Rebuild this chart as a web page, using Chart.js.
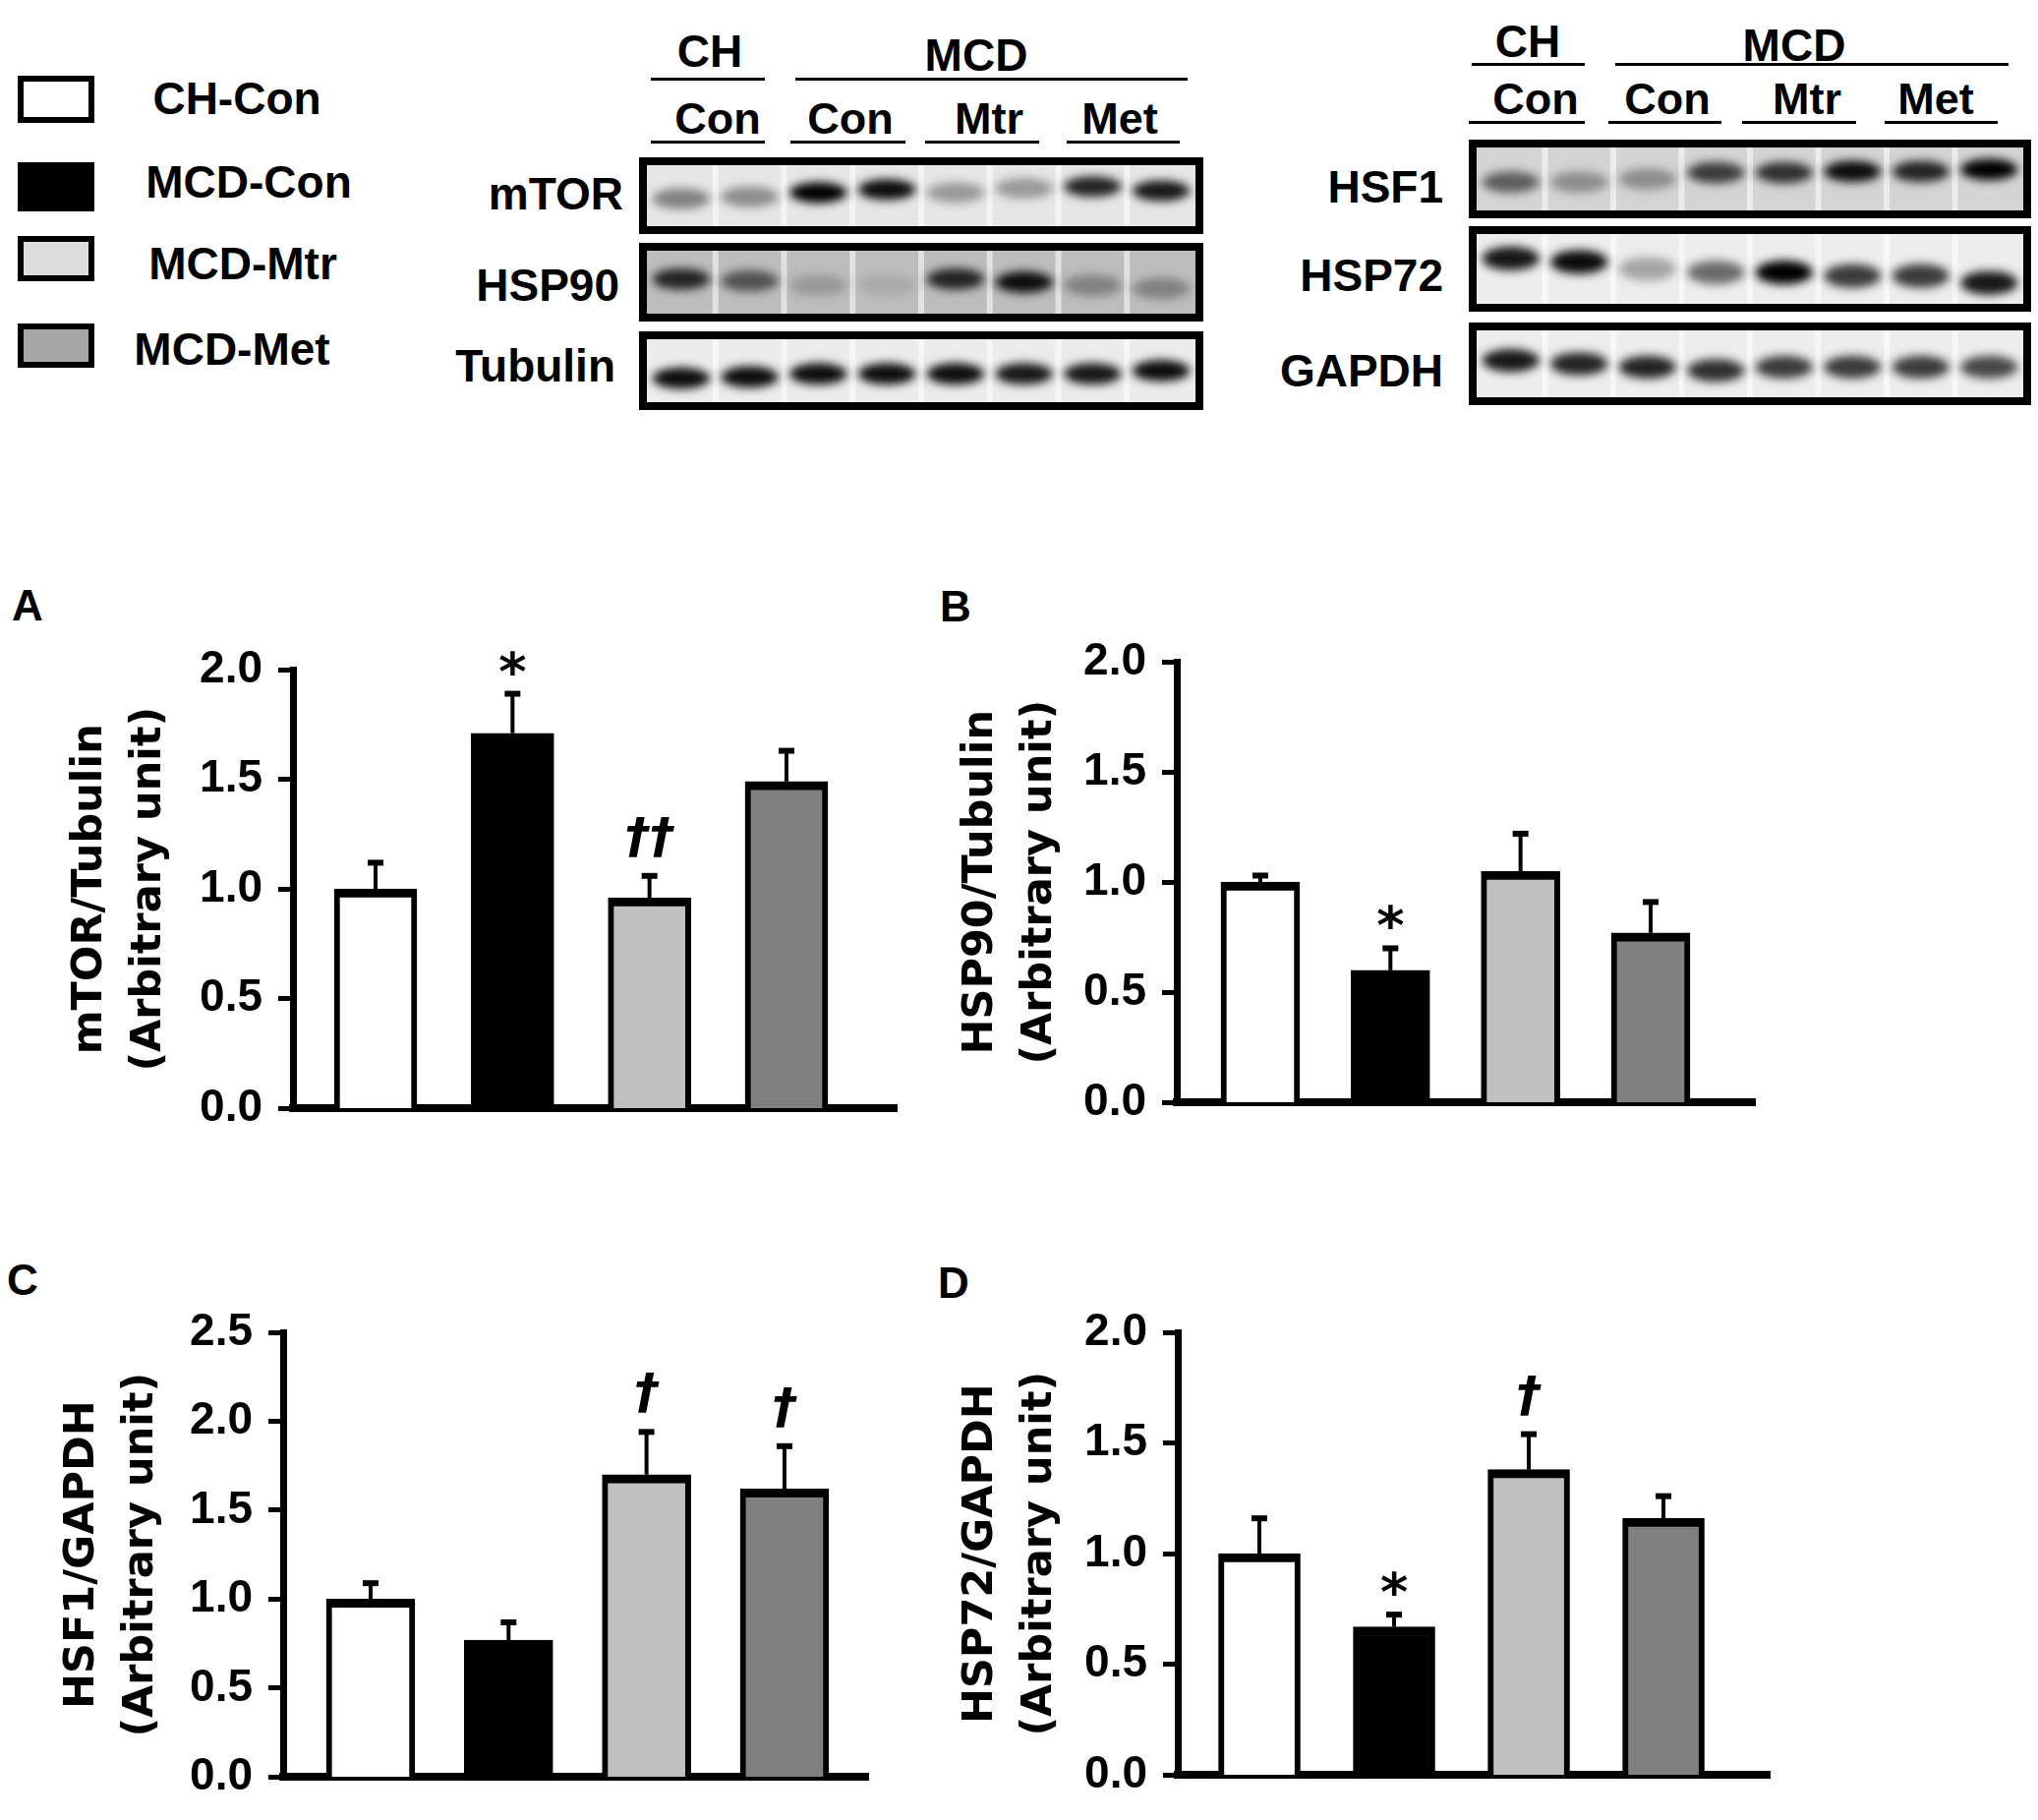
<!DOCTYPE html>
<html>
<head>
<meta charset="utf-8">
<script src="https://cdn.jsdelivr.net/npm/chart.js@4.4.0/dist/chart.umd.min.js"></script>
<style>
  body { margin: 0; background: #fff; }
  #page { position: relative; width: 2073px; height: 1851px; overflow: hidden; background: #fff;
          font-family: "Liberation Sans", Arial, sans-serif; font-weight: bold; color: #000; }
  .t { position: absolute; white-space: nowrap; line-height: 1; }
  canvas { position: absolute; }
  .box { position: absolute; box-sizing: border-box; border: 6px solid #000; }
  .rule { position: absolute; height: 3px; background: #000; }
</style>
</head>
<body>
<div id="page"></div>
<script>
// groups and colours
const groups = ['CH-Con', 'MCD-Con', 'MCD-Mtr', 'MCD-Met'];
const barFill = ['#ffffff', '#000000', '#c0c0c0', '#808080'];
const legendFill = ['#ffffff', '#000000', '#dcdcdc', '#a6a6a6'];

// A: mTOR/Tubulin
const mtorMean = [1.00, 1.71, 0.96, 1.49];
const mtorSem = [0.12, 0.18, 0.10, 0.14];
const mtorMarks = ['', '*', '††', ''];
// B: HSP90/Tubulin
const hsp90Mean = [1.00, 0.60, 1.05, 0.77];
const hsp90Sem = [0.03, 0.10, 0.17, 0.14];
const hsp90Marks = ['', '*', '', ''];
// C: HSF1/GAPDH
const hsf1Mean = [1.00, 0.77, 1.70, 1.62];
const hsf1Sem = [0.09, 0.10, 0.24, 0.24];
const hsf1Marks = ['', '', '†', '†'];
// D: HSP72/GAPDH
const hsp72Mean = [1.00, 0.67, 1.38, 1.16];
const hsp72Sem = [0.16, 0.055, 0.16, 0.10];
const hsp72Marks = ['', '*', '†', ''];

// tick labels
const ticks20 = ['0.0', '0.5', '1.0', '1.5', '2.0'];
const ticks25 = ['0.0', '0.5', '1.0', '1.5', '2.0', '2.5'];

// western blot lanes (band darkness 0..1, band height in lane 0..1)
const laneGroups = ['CH', 'MCD'];
const laneLabels = ['Con', 'Con', 'Mtr', 'Met'];
const mtorBand = [0.45, 0.40, 1.00, 0.95, 0.35, 0.35, 0.85, 0.90];
const mtorPos = [0.55, 0.52, 0.45, 0.40, 0.45, 0.38, 0.35, 0.42];
const hsp90Band = [0.85, 0.65, 0.35, 0.28, 0.85, 0.95, 0.45, 0.45];
const hsp90Pos = [0.45, 0.48, 0.55, 0.55, 0.45, 0.50, 0.55, 0.60];
const tubulinBand = [0.95, 0.95, 0.95, 0.95, 0.95, 0.90, 0.90, 0.95];
const tubulinPos = [0.62, 0.60, 0.55, 0.55, 0.55, 0.55, 0.55, 0.50];
const hsf1Band = [0.60, 0.40, 0.40, 0.75, 0.80, 0.95, 0.85, 1.00];
const hsf1Pos = [0.55, 0.55, 0.50, 0.40, 0.40, 0.38, 0.38, 0.35];
const hsp72Band = [0.90, 0.95, 0.30, 0.55, 1.00, 0.75, 0.75, 0.90];
const hsp72Pos = [0.35, 0.40, 0.50, 0.55, 0.55, 0.60, 0.60, 0.70];
const gapdhBand = [0.90, 0.85, 0.85, 0.80, 0.75, 0.75, 0.75, 0.70];
const gapdhPos = [0.45, 0.50, 0.55, 0.60, 0.55, 0.55, 0.55, 0.55];

const page = document.getElementById('page');

function text(str, x, y, size, align, extra) {
  const d = document.createElement('div');
  d.className = 't';
  d.textContent = str;
  d.style.left = x + 'px';
  d.style.top = y + 'px';
  d.style.fontSize = size + 'px';
  const tx = align === 'right' ? '-100%' : align === 'left' ? '0' : '-50%';
  d.style.transform = 'translate(' + tx + ',-50%)';
  if (extra) Object.assign(d.style, extra);
  page.appendChild(d);
  return d;
}
function rule(x1, x2, y) {
  const d = document.createElement('div');
  d.className = 'rule';
  d.style.left = x1 + 'px';
  d.style.width = (x2 - x1) + 'px';
  d.style.top = (y - 1) + 'px';
  page.appendChild(d);
}

// legend
const legendBoxes = [[18, 77, 48], [18, 165, 50], [18, 240, 46], [18, 329, 45]];
const legendText = [[241, 100], [253, 185], [247, 268], [236, 355]];
groups.forEach((g, i) => {
  const b = document.createElement('div');
  b.className = 'box';
  b.style.left = legendBoxes[i][0] + 'px';
  b.style.top = legendBoxes[i][1] + 'px';
  b.style.width = '78px';
  b.style.height = legendBoxes[i][2] + 'px';
  b.style.background = legendFill[i];
  page.appendChild(b);
  text(g, legendText[i][0], legendText[i][1], 46, 'center');
});

// blots
function blot(x, y, w, h, bands, pos, bg) {
  const cv = document.createElement('canvas');
  cv.width = w; cv.height = h;
  cv.style.left = x + 'px'; cv.style.top = y + 'px';
  page.appendChild(cv);
  const ctx = cv.getContext('2d');
  const b = 8;
  ctx.fillStyle = '#000';
  ctx.fillRect(0, 0, w, h);
  ctx.fillStyle = bg;
  ctx.fillRect(b, b, w - 2 * b, h - 2 * b);
  const n = bands.length;
  const lw = (w - 2 * b) / n;
  ctx.save();
  ctx.beginPath();
  ctx.rect(b, b, w - 2 * b, h - 2 * b);
  ctx.clip();
  ctx.fillStyle = 'rgba(255,255,255,0.55)';
  for (let i = 1; i < n; i++) ctx.fillRect(b + i * lw - 3, b, 6, h - 2 * b);
  ctx.filter = 'blur(5px)';
  bands.forEach((v, i) => {
    const g = Math.round(235 * (1 - v));
    ctx.fillStyle = 'rgb(' + g + ',' + g + ',' + g + ')';
    ctx.beginPath();
    ctx.ellipse(b + (i + 0.5) * lw, b + (h - 2 * b) * pos[i], lw * 0.42, (h - 2 * b) * 0.17, 0, 0, Math.PI * 2);
    ctx.fill();
  });
  ctx.restore();
}

function blotHeader(chX, mcdX, top, groupRules, subX, subY, subRules, ruleY) {
  text(laneGroups[0], chX, top, 46, 'center');
  text(laneGroups[1], mcdX, top + 4, 46, 'center');
  rule(groupRules[0][0], groupRules[0][1], ruleY);
  rule(groupRules[1][0], groupRules[1][1], ruleY);
  laneLabels.forEach((l, i) => {
    text(l, subX[i], subY, 45, 'center');
    rule(subRules[i][0], subRules[i][1], subY + 24);
  });
}

blotHeader(722, 993, 52, [[662, 778], [809, 1208]], [730, 865, 1006, 1139], 120,
  [[662, 778], [804, 921], [941, 1057], [1085, 1200]], 80);
blot(650, 160, 574, 78, mtorBand, mtorPos, '#e6e6e6');
blot(650, 247, 574, 80, hsp90Band, hsp90Pos, '#bdbdbd');
blot(650, 337, 574, 80, tubulinBand, tubulinPos, '#ececec');
text('mTOR', 634, 197, 46, 'right');
text('HSP90', 630, 290, 46, 'right');
text('Tubulin', 626, 372, 46, 'right');

blotHeader(1554, 1825, 42, [[1497, 1612], [1643, 2043]], [1562, 1696, 1838, 1969], 100,
  [[1494, 1612], [1636, 1751], [1772, 1888], [1917, 2032]], 65);
blot(1494, 142, 572, 80, hsf1Band, hsf1Pos, '#d4d4d4');
blot(1494, 230, 572, 87, hsp72Band, hsp72Pos, '#ededed');
blot(1494, 328, 572, 84, gapdhBand, gapdhPos, '#ededed');
text('HSF1', 1468, 190, 46, 'right');
text('HSP72', 1468, 280, 46, 'right');
text('GAPDH', 1468, 377, 46, 'right');

// panel letters
text('A', 28, 616, 44, 'center');
text('B', 972, 617, 44, 'center');
text('C', 23, 1302, 44, 'center');
text('D', 970, 1305, 44, 'center');

// error bars and significance marks
const errBars = {
  id: 'errBars',
  afterDatasetsDraw(chart) {
    const o = chart.options.plugins.errBars;
    const ctx = chart.ctx;
    const ys = chart.scales.y;
    chart.getDatasetMeta(0).data.forEach((bar, i) => {
      const base = ys.getPixelForValue(o.mean[i]);
      const top = ys.getPixelForValue(o.mean[i] + o.sem[i]);
      ctx.save();
      ctx.strokeStyle = '#000';
      ctx.lineWidth = 4;
      ctx.beginPath();
      ctx.moveTo(bar.x, base);
      ctx.lineTo(bar.x, top);
      ctx.stroke();
      ctx.lineWidth = 6;
      ctx.beginPath();
      ctx.moveTo(bar.x - 8, top);
      ctx.lineTo(bar.x + 8, top);
      ctx.stroke();
      const m = o.marks[i];
      if (m) {
        ctx.fillStyle = '#000';
        ctx.textAlign = 'center';
        ctx.textBaseline = 'alphabetic';
        if (m === '*') {
          ctx.font = 'bold 54px "DejaVu Sans"';
          ctx.fillText(m, bar.x, top - 4);
        } else {
          ctx.font = 'italic bold 50px "DejaVu Sans"';
          ctx.fillText(m, bar.x, top - 24);
        }
      }
      ctx.restore();
    });
  }
};

function panel(cfg) {
  const cv = document.createElement('canvas');
  cv.width = cfg.w; cv.height = cfg.h;
  cv.style.left = cfg.left + 'px'; cv.style.top = cfg.top + 'px';
  page.appendChild(cv);
  new Chart(cv, {
    type: 'bar',
    data: {
      labels: groups,
      datasets: [{
        data: cfg.mean.map((v, i) => ({ x: i, y: v })),
        backgroundColor: barFill,
        borderColor: '#000',
        borderWidth: { top: 9, left: 6, right: 6, bottom: 0 },
        borderSkipped: 'start',
        barThickness: cfg.bw
      }]
    },
    options: {
      responsive: false,
      animation: false,
      devicePixelRatio: 1,
      layout: { padding: { top: 70, bottom: cfg.padBottom, left: 0, right: 8 } },
      plugins: {
        legend: { display: false },
        tooltip: { enabled: false },
        errBars: { mean: cfg.mean, sem: cfg.sem, marks: cfg.marks }
      },
      scales: {
        x: {
          type: 'linear',
          min: cfg.xmin,
          max: cfg.xmax,
          offset: false,
          ticks: { display: false },
          grid: { display: false },
          border: { display: true, color: '#000', width: 8 },
          afterFit: s => { s.height = 0; }
        },
        y: {
          min: 0,
          max: cfg.max,
          ticks: {
            stepSize: 0.5,
            color: '#000',
            padding: 16,
            font: { family: 'Liberation Sans', weight: 'bold', size: 46 },
            callback: (v, i) => cfg.tickLabels[i]
          },
          grid: { display: true, drawOnChartArea: false, drawTicks: true, tickLength: 15, tickWidth: 5, tickColor: '#000', color: '#000' },
          border: { display: true, color: '#000', width: 7 },
          title: {
            display: true,
            text: cfg.title,
            color: '#000',
            font: { family: 'DejaVu Sans', weight: 'bold', size: 43, lineHeight: 1.4 },
            padding: { top: 4, bottom: 0 }
          },
          afterFit: s => { s.width = cfg.yw; }
        }
      }
    },
    plugins: [errBars]
  });
}

panel({ left: 58, top: 611, w: 862, h: 560, yw: 240, padBottom: 35, xmin: -0.603, xmax: 3.804, bw: 84,
  max: 2, tickLabels: ticks20, title: ['mTOR/Tubulin', '(Arbitrary unit)'],
  mean: mtorMean, sem: mtorSem, marks: mtorMarks });
panel({ left: 964, top: 603, w: 829, h: 562, yw: 233, padBottom: 35, xmin: -0.642, xmax: 3.801, bw: 80,
  max: 2, tickLabels: ticks20, title: ['HSP90/Tubulin', '(Arbitrary unit)'],
  mean: hsp90Mean, sem: hsp90Sem, marks: hsp90Marks });
panel({ left: 50, top: 1285, w: 841, h: 566, yw: 238, padBottom: 32, xmin: -0.634, xmax: 3.606, bw: 90,
  max: 2.5, tickLabels: ticks25, title: ['HSF1/GAPDH', '(Arbitrary unit)'],
  mean: hsf1Mean, sem: hsf1Sem, marks: hsf1Marks });
panel({ left: 964, top: 1285, w: 844, h: 564, yw: 234, padBottom: 32, xmin: -0.606, xmax: 3.788, bw: 83,
  max: 2, tickLabels: ticks20, title: ['HSP72/GAPDH', '(Arbitrary unit)'],
  mean: hsp72Mean, sem: hsp72Sem, marks: hsp72Marks });
</script>
</body>
</html>
